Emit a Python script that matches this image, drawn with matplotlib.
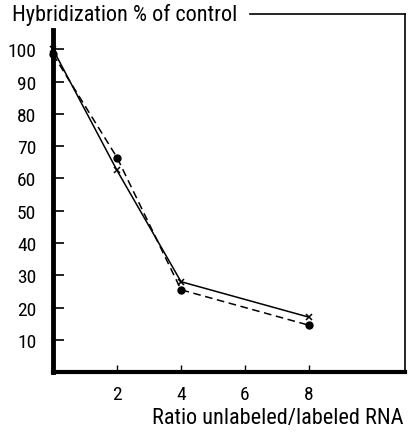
import matplotlib
matplotlib.use("Agg")
import matplotlib.pyplot as plt

# Hybridization competition: ratio of unlabeled to labeled RNA
ratio = [0, 2, 4, 8]
series_cross = [100, 62.5, 28, 17]   # solid line, x markers
series_dot = [98.5, 66.5, 25.5, 14.5]  # dashed line, filled circles
yticks = [10, 20, 30, 40, 50, 60, 70, 80, 90, 100]
xticks = [2, 4, 6, 8]

families = ["Roboto Condensed", "Roboto", "DejaVu Sans"]
plt.rcParams["font.family"] = families
font = dict(family=families)

fig = plt.figure(figsize=(4.08, 4.35), dpi=100)
ax = fig.add_axes([0.130, 0.1425, 0.8626, 0.8230])
ax.set_xlim(0, 11)
ax.set_ylim(0, 111)

ax.plot(ratio, series_cross, color="black", lw=1.1, ls="-",
        marker="x", ms=5, mew=1.1, clip_on=False, zorder=3)
ax.plot(ratio, series_dot, color="black", lw=1.1, ls=(0, (5, 3)),
        marker="o", ms=5, clip_on=False, zorder=3)

for side in ("left", "bottom"):
    ax.spines[side].set_color("black")
ax.spines["left"].set_linewidth(3.5)
ax.spines["bottom"].set_linewidth(3)
ax.spines["left"].set_bounds(0, 106)
ax.spines["right"].set_linewidth(1.2)
ax.spines["top"].set_linewidth(1.2)
ax.spines["top"].set_bounds(6.15, 11)

ax.set_yticks(yticks)
ax.set_yticklabels([str(v) for v in yticks], fontdict=font, fontsize=14)
ax.set_xticks(xticks)
ax.set_xticklabels([str(v) for v in xticks], fontdict=font, fontsize=14)
ax.tick_params(axis="y", direction="in", length=8, width=1.2, pad=12)
ax.tick_params(axis="x", direction="in", length=5, width=1.0, pad=9)

fig.text(0.03, 0.965, "Hybridization % of control", ha="left", va="center",
         fontsize=16, **font)
fig.text(0.373, 0.039, "Ratio unlabeled/labeled RNA", ha="left", va="center",
         fontsize=16, **font)

fig.savefig("out.png", dpi=100)
